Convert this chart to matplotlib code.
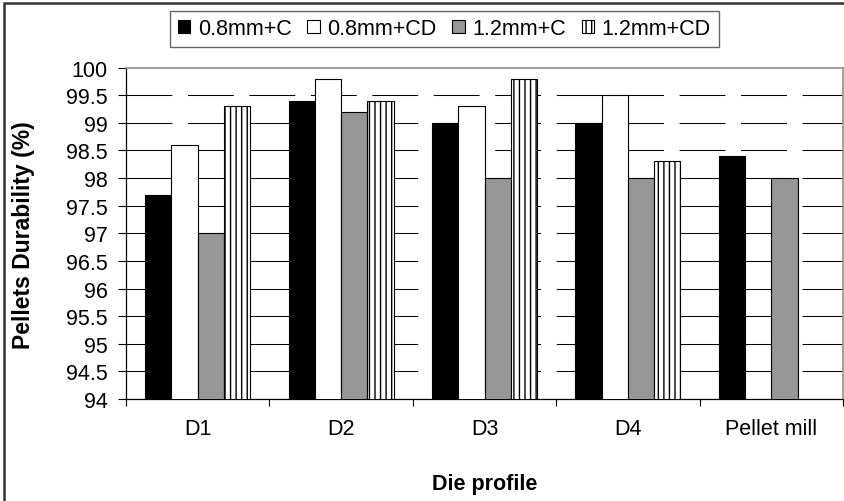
import numpy as np
import matplotlib
matplotlib.use("Agg")
import matplotlib.pyplot as plt
from matplotlib.patches import Rectangle, Patch

plt.rcParams['font.family'] = ['Liberation Sans', 'DejaVu Sans']
plt.rcParams['hatch.linewidth'] = 1.0

categories = ['D1', 'D2', 'D3', 'D4', 'Pellet mill']
series_names = ['0.8mm+C', '0.8mm+CD', '1.2mm+C', '1.2mm+CD']
c_08 = [97.7, 99.4, 99.0, 99.0, 98.4]
cd_08 = [98.6, 99.8, 99.3, 99.5, np.nan]
c_12 = [97.0, 99.2, 98.0, 98.0, 98.0]
cd_12 = [99.3, 99.4, 99.8, 98.3, np.nan]
yticks = [94, 94.5, 95, 95.5, 96, 96.5, 97, 97.5, 98, 98.5, 99, 99.5, 100]

fs = 15.5

fig = plt.figure(figsize=(8.45, 5.02), dpi=100)
ax = fig.add_axes([126 / 845, 1 - 400 / 502, 717 / 845, 331.5 / 502])

styles = [
    dict(color='black', hatch=None),
    dict(color='white', hatch=None),
    dict(color='#969696', hatch=None),
    dict(color='white', hatch='|||'),
]
w = 0.183
x = np.arange(len(categories))
for k, vals in enumerate([c_08, cd_08, c_12, cd_12]):
    ax.bar(x + 0.5 + (k - 1.5) * w, vals, w, color=styles[k]['color'],
           hatch=styles[k]['hatch'], edgecolor='black', linewidth=0.8, zorder=3)

ax.set_ylim(94, 100)
ax.set_xlim(0, len(categories))
ax.set_yticks(yticks)
ax.set_yticklabels(['%g' % t for t in yticks])
# dashed gridlines (top one is the grey frame)
ax.hlines(yticks[1:-1], 0, len(categories), colors='black', linewidth=0.75,
          linestyles=(0, (44, 15)), zorder=1)

ax.set_xticks(np.arange(len(categories) + 1))
ax.set_xticklabels([])
ax.set_xticks(x + 0.5, minor=True)
ax.set_xticklabels(categories, minor=True)
ax.tick_params(axis='x', which='major', direction='out', length=5, width=0.8)
ax.tick_params(axis='x', which='minor', length=0, pad=14, labelsize=fs)
ax.tick_params(axis='y', direction='out', length=6, width=0.8, pad=7, labelsize=fs)

for s in ['top', 'right']:
    ax.spines[s].set_color('#909090')
    ax.spines[s].set_linewidth(1.2)
for s in ['left', 'bottom']:
    ax.spines[s].set_linewidth(0.9)

fig.text(24 / 845, 1 - 235 / 502, 'Pellets Durability (%)', rotation=90,
         ha='center', va='center', fontsize=16.5, fontweight='bold')
fig.text(485 / 845, 1 - 485 / 502, 'Die profile', ha='center', va='center',
         fontsize=fs, fontweight='bold')

handles = [Patch(facecolor=styles[k]['color'], hatch=styles[k]['hatch'],
                 edgecolor='black', linewidth=0.8) for k in range(4)]
leg = fig.legend(handles, series_names, loc='center', ncol=4,
                 bbox_to_anchor=(444.5 / 845, 1 - 30 / 502), fontsize=fs,
                 frameon=True, fancybox=False, handlelength=0.56, handleheight=0.56,
                 handletextpad=0.37, columnspacing=0.73, borderpad=0.35)
leg.get_frame().set_edgecolor('#404040')
leg.get_frame().set_linewidth(1.0)

fig.patches.append(Rectangle((4 / 845, -0.5), 2, 1.5 - 4 / 502,
                             transform=fig.transFigure, fill=False,
                             edgecolor='#333333', linewidth=1.8))

fig.savefig('out.png', dpi=100)
